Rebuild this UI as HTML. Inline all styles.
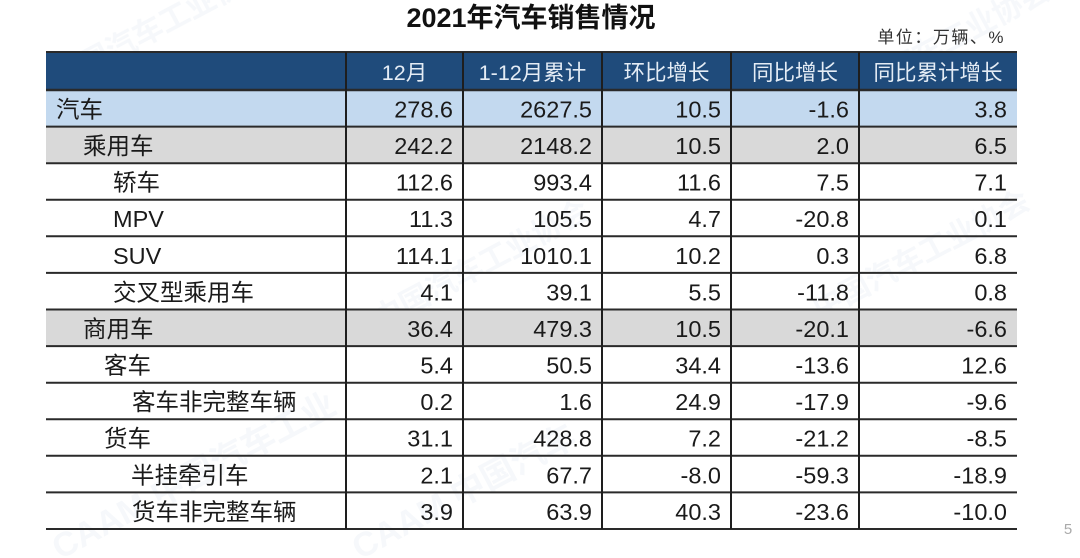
<!DOCTYPE html>
<html>
<head>
<meta charset="utf-8">
<style>
html,body{margin:0;padding:0;background:#ffffff;}
body{width:1080px;height:558px;overflow:hidden;}
svg{display:block;}
.t{font-family:"Liberation Sans","Noto Sans CJK SC",sans-serif;}
</style>
</head>
<body>
<svg width="1080" height="558" viewBox="0 0 1080 558" xmlns="http://www.w3.org/2000/svg" class="t">
  <rect x="0" y="0" width="1080" height="558" fill="#ffffff"/>
  <!-- faint watermark -->
  <g fill="#e6ecf2" opacity="0.35" font-family="Liberation Sans, Noto Sans CJK SC, sans-serif" font-weight="bold">
    <text x="60" y="90" font-size="30" transform="rotate(-28 60 90)">中国汽车工业协会</text>
    <text x="840" y="110" font-size="30" transform="rotate(-28 840 110)">中国汽车工业协会</text>
    <text x="380" y="330" font-size="30" transform="rotate(-28 380 330)">中国汽车工业协会</text>
    <text x="820" y="320" font-size="30" transform="rotate(-28 820 320)">中国汽车工业协会</text>
    <text x="60" y="560" font-size="34" transform="rotate(-28 60 560)">CAAM 中国汽车工业</text>
    <text x="360" y="560" font-size="34" transform="rotate(-28 360 560)">CAAM 中国汽车</text>
  </g>

  <!-- title -->
  <text x="531" y="27" font-size="27" font-weight="bold" text-anchor="middle" fill="#111">2021年汽车销售情况</text>
  <text x="1005" y="43" font-size="17" letter-spacing="1.5" text-anchor="end" fill="#333">单位：万辆、%</text>

  <!-- header background -->
  <rect x="46" y="52" width="971" height="38" fill="#1f4b7b"/>
  <!-- row backgrounds -->
  <rect x="46" y="90" width="971" height="36.6" fill="#c3d9ef"/>
  <rect x="46" y="126.6" width="971" height="36.6" fill="#d9d9d9"/>
  <rect x="46" y="309.5" width="971" height="36.6" fill="#d9d9d9"/>

  <!-- header text -->
  <g font-size="21.5" fill="#e4ecf5" text-anchor="middle">
    <text x="404.5" y="80">12月</text>
    <text x="532.5" y="80">1-12月累计</text>
    <text x="666.5" y="80">环比增长</text>
    <text x="795" y="80">同比增长</text>
    <text x="938" y="80">同比累计增长</text>
  </g>

  <!-- horizontal lines -->
  <g stroke="#2a2a2a" stroke-width="2">
    <line x1="46" y1="52" x2="1017" y2="52"/>
    <line x1="46" y1="90" x2="1017" y2="90" stroke-width="2.5"/>
    <line x1="46" y1="126.6" x2="1017" y2="126.6"/>
    <line x1="46" y1="163.2" x2="1017" y2="163.2"/>
    <line x1="46" y1="199.7" x2="1017" y2="199.7"/>
    <line x1="46" y1="236.3" x2="1017" y2="236.3"/>
    <line x1="46" y1="272.9" x2="1017" y2="272.9"/>
    <line x1="46" y1="309.5" x2="1017" y2="309.5"/>
    <line x1="46" y1="346.1" x2="1017" y2="346.1"/>
    <line x1="46" y1="382.7" x2="1017" y2="382.7"/>
    <line x1="46" y1="419.2" x2="1017" y2="419.2"/>
    <line x1="46" y1="455.8" x2="1017" y2="455.8"/>
    <line x1="46" y1="492.4" x2="1017" y2="492.4"/>
    <line x1="46" y1="529" x2="1017" y2="529"/>
  </g>
  <!-- vertical lines -->
  <g stroke="#1e1e1e" stroke-width="2">
    <line x1="346" y1="52" x2="346" y2="529"/>
    <line x1="463" y1="52" x2="463" y2="529"/>
    <line x1="602" y1="52" x2="602" y2="529"/>
    <line x1="731" y1="52" x2="731" y2="529"/>
    <line x1="859" y1="52" x2="859" y2="529"/>
  </g>

  <!-- labels -->
  <g font-size="23.5" fill="#1a1a1a">
    <text x="56" y="117.5">汽车</text>
    <text x="83" y="154.1">乘用车</text>
    <text x="113" y="190.7">轿车</text>
    <text x="113" y="227.2">MPV</text>
    <text x="113" y="263.8">SUV</text>
    <text x="113" y="300.4">交叉型乘用车</text>
    <text x="83" y="337">商用车</text>
    <text x="104" y="373.6">客车</text>
    <text x="132" y="410.2">客车非完整车辆</text>
    <text x="104" y="446.7">货车</text>
    <text x="131" y="483.3">半挂牵引车</text>
    <text x="132" y="519.9">货车非完整车辆</text>
  </g>

  <!-- numbers -->
  <g font-size="23.5" fill="#1a1a1a" text-anchor="end">
    <text x="453" y="117.5">278.6</text>
    <text x="453" y="154.1">242.2</text>
    <text x="453" y="190.7">112.6</text>
    <text x="453" y="227.2">11.3</text>
    <text x="453" y="263.8">114.1</text>
    <text x="453" y="300.4">4.1</text>
    <text x="453" y="337">36.4</text>
    <text x="453" y="373.6">5.4</text>
    <text x="453" y="410.2">0.2</text>
    <text x="453" y="446.7">31.1</text>
    <text x="453" y="483.3">2.1</text>
    <text x="453" y="519.9">3.9</text>

    <text x="592" y="117.5">2627.5</text>
    <text x="592" y="154.1">2148.2</text>
    <text x="592" y="190.7">993.4</text>
    <text x="592" y="227.2">105.5</text>
    <text x="592" y="263.8">1010.1</text>
    <text x="592" y="300.4">39.1</text>
    <text x="592" y="337">479.3</text>
    <text x="592" y="373.6">50.5</text>
    <text x="592" y="410.2">1.6</text>
    <text x="592" y="446.7">428.8</text>
    <text x="592" y="483.3">67.7</text>
    <text x="592" y="519.9">63.9</text>

    <text x="721" y="117.5">10.5</text>
    <text x="721" y="154.1">10.5</text>
    <text x="721" y="190.7">11.6</text>
    <text x="721" y="227.2">4.7</text>
    <text x="721" y="263.8">10.2</text>
    <text x="721" y="300.4">5.5</text>
    <text x="721" y="337">10.5</text>
    <text x="721" y="373.6">34.4</text>
    <text x="721" y="410.2">24.9</text>
    <text x="721" y="446.7">7.2</text>
    <text x="721" y="483.3">-8.0</text>
    <text x="721" y="519.9">40.3</text>

    <text x="849" y="117.5">-1.6</text>
    <text x="849" y="154.1">2.0</text>
    <text x="849" y="190.7">7.5</text>
    <text x="849" y="227.2">-20.8</text>
    <text x="849" y="263.8">0.3</text>
    <text x="849" y="300.4">-11.8</text>
    <text x="849" y="337">-20.1</text>
    <text x="849" y="373.6">-13.6</text>
    <text x="849" y="410.2">-17.9</text>
    <text x="849" y="446.7">-21.2</text>
    <text x="849" y="483.3">-59.3</text>
    <text x="849" y="519.9">-23.6</text>

    <text x="1007" y="117.5">3.8</text>
    <text x="1007" y="154.1">6.5</text>
    <text x="1007" y="190.7">7.1</text>
    <text x="1007" y="227.2">0.1</text>
    <text x="1007" y="263.8">6.8</text>
    <text x="1007" y="300.4">0.8</text>
    <text x="1007" y="337">-6.6</text>
    <text x="1007" y="373.6">12.6</text>
    <text x="1007" y="410.2">-9.6</text>
    <text x="1007" y="446.7">-8.5</text>
    <text x="1007" y="483.3">-18.9</text>
    <text x="1007" y="519.9">-10.0</text>
  </g>

  <!-- page number -->
  <text x="1068" y="534" font-size="15" fill="#aaaaaa" text-anchor="middle">5</text>
</svg>
</body>
</html>
